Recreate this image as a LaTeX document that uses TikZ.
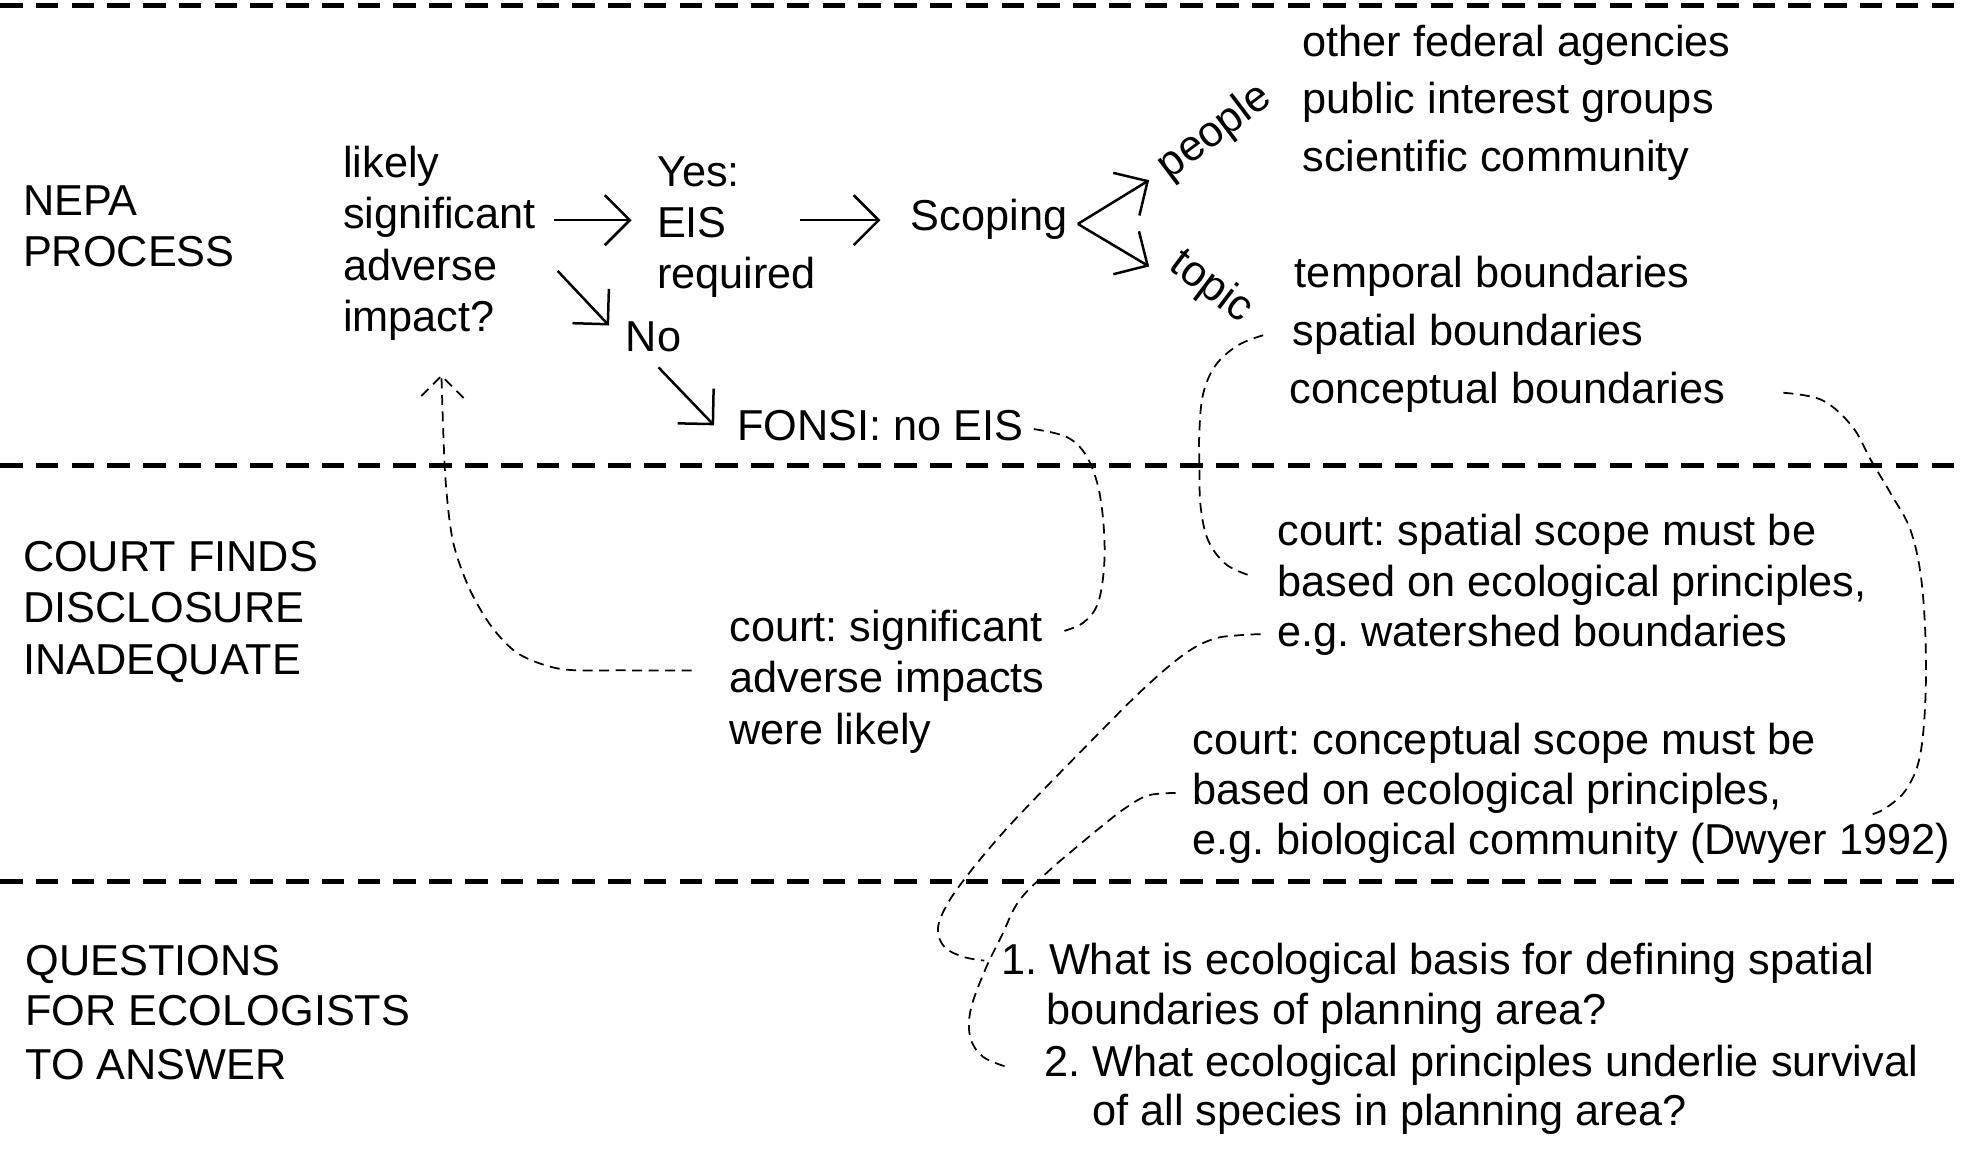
\documentclass[tikz,border=0pt]{standalone}
\usepackage{fontspec}
\setmainfont{Liberation Sans}
\usetikzlibrary{arrows.meta,calc}
\newcommand\dfont{\fontsize{17.3}{20.5}\selectfont\frenchspacing}
\begin{document}
\frenchspacing
\begin{tikzpicture}[x=0.5pt,y=-0.5pt,
  txt/.style={anchor=base west,inner sep=0pt,font=\dfont},
  rtxt/.style={anchor=base,inner sep=0pt,font=\dfont},
  sepline/.style={line width=2pt,dash pattern=on 9pt off 5.3pt},
  arr/.style={line width=1pt,-{Straight Barb[length=10pt,width=20pt]}},
  conn/.style={line width=0.7pt,dash pattern=on 4pt off 2.6pt},
]
\fill[white] (0,0) rectangle (1568,918);
\useasboundingbox (0,0) rectangle (1568,918);

% separators
\draw[sepline] (0,4) -- (1568,4);
\draw[sepline] (0,372) -- (1568,372);
\draw[sepline] (0,705) -- (1568,705);

% left headings
\node[txt] (nepa1) at (18,172) {NEPA};
\node[txt] (nepa2) at (18,213) {PROCESS};
\node[txt] (cf1) at (18,457) {COURT FINDS};
\node[txt] (cf2) at (18,498) {DISCLOSURE};
\node[txt] (cf3) at (18,539) {INADEQUATE};
\node[txt] (qh1) at (20,780) {QUESTIONS};
\node[txt] (qh2) at (20,820) {FOR ECOLOGISTS};
\node[txt] (qh3) at (20,863) {TO ANSWER};

% NEPA process
\node[txt] (lk1) at (274,142) {likely};
\node[txt] (lk2) at (274,183) {significant};
\node[txt] (lk3) at (274,224) {adverse};
\node[txt] (lk4) at (274,265) {impact?};
\node[txt] (yes1) at (525,149) {Yes:};
\node[txt] (yes2) at (525,190) {EIS};
\node[txt] (yes3) at (525,231) {required};
\node[txt] (no) at (500,281) {No};
\node[txt] (fonsi) at (589,352) {FONSI: no EIS};
\node[txt] (scop) at (728,184) {Scoping};
\node[rtxt,rotate=37] (people) at (977,113) {people};
\node[rtxt,rotate=-37] (topic) at (963,237) {topic};

\node[txt] (pp1) at (1041,45) {other federal agencies};
\node[txt] (pp2) at (1041,91) {public interest groups};
\node[txt] (pp3) at (1041,137) {scientific community};
\node[txt] (tp1) at (1035,230) {temporal boundaries};
\node[txt] (tp2) at (1033,276) {spatial boundaries};
\node[txt] (tp3) at (1031,323) {conceptual boundaries};

% court
\node[txt] (cs1) at (583,513) {court: significant};
\node[txt] (cs2) at (583,554) {adverse impacts};
\node[txt] (cs3) at (583,595) {were likely};
\node[txt] (sp1) at (1021,436) {court: spatial scope must be};
\node[txt] (sp2) at (1021,477) {based on ecological principles,};
\node[txt] (sp3) at (1021,517) {e.g. watershed boundaries};
\node[txt] (cc1) at (953,603) {court: conceptual scope must be};
\node[txt] (cc2) at (953,643) {based on ecological principles,};
\node[txt] (cc3) at (953,683) {e.g. biological community (Dwyer 1992)};

% questions
\node[txt] (qa1) at (800,779) {1. What is ecological basis for defining spatial};
\node[txt] (qa2) at (836,819) {boundaries of planning area?};
\node[txt] (qb1) at (835,861) {2. What ecological principles underlie survival};
\node[txt] (qb2) at (873,900) {of all species in planning area?};

% solid arrows
\draw[arr] ($(lk2.east)+(14,2)$) -- ($(lk2.east -| yes2.west)+(-20,2)$);
\draw[arr] ($(yes2.east |- lk2.east)+(58,2)$) -- ($(lk2.east -| scop.west)+(-24,2)$);
\draw[arr] ($(lk3.east)+(48,5)$) -- ($(no.west)+(-13,-9)$);
\draw[arr] ($(no.south)+(4,12)$) -- ($(fonsi.west)+(-18,0)$);
\coordinate (vx) at ($(scop.east)+(8,4)$);
\coordinate (ptip) at ($(vx)+(57,-35)$);
\coordinate (ttip) at ($(vx)+(57,34)$);
\draw[arr] (vx) -- (ptip);
\draw[arr] (vx) -- (ttip);

% dashed connectors
\coordinate (a0) at ($(fonsi.east)+(8,3)$);
\coordinate (a1) at ($(cs1.east)+(15,1)$);
\draw[conn] plot[smooth,tension=0.6] coordinates {(a0) (852,349) (867,362) (877,385) (882,415) (883,450) (878,482) (866,498) (a1)};

\coordinate (b0) at ($(cs2.west)+(-30,-9)$);
\coordinate (bt) at ($(lk4.south)+(18,28)$);
\draw[conn] plot[smooth,tension=0.5] coordinates {(b0) (500,536) (449,535) (415,523) (393,501) (375,470) (362,432) (356,380) (bt)};
\draw[conn] ($(bt)+(-16,16)$) -- (bt) -- ($(bt)+(18,18)$);

\coordinate (c0) at ($(tp2.west)+(-23,1)$);
\coordinate (c1) at ($(sp2.west)+(-22,-8)$);
\draw[conn] plot[smooth,tension=0.6] coordinates {(c0) (990,276) (972,292) (962,315) (959,345) (959,373) (960,405) (966,432) (980,451) (c1)};

\coordinate (d0) at ($(tp3.east)+(46,0)$);
\coordinate (d1) at ($(cc3.north east)+(-64,-6)$);
\draw[conn] plot[smooth,tension=0.6] coordinates {(d0) (1457,320) (1481,341) (1496,368) (1512,395) (1528,425) (1537,470) (1540,539) (1536,600) (1525,630) (1508,646) (d1)};

\coordinate (e0) at ($(sp3.west)+(-13,-1)$);
\coordinate (e1) at ($(qa1.west)+(-13,-2)$);
\draw[conn] plot[smooth,tension=0.6] coordinates {(e0) (990,508) (970,511) (947,523) (913,552) (873,592) (829,637) (800,668) (775,698) (758,722) (750,742) (755,757) (770,765) (e1)};

\coordinate (f0) at ($(cc2.west)+(-13,0)$);
\coordinate (f1) at ($(qb1.west)+(-30,1)$);
\draw[conn] plot[smooth,tension=0.6] coordinates {(f0) (918,636) (900,646) (883,659) (860,678) (839,696) (815,720) (801,748) (787,777) (776,808) (776,830) (786,845) (f1)};
\end{tikzpicture}
\end{document}
